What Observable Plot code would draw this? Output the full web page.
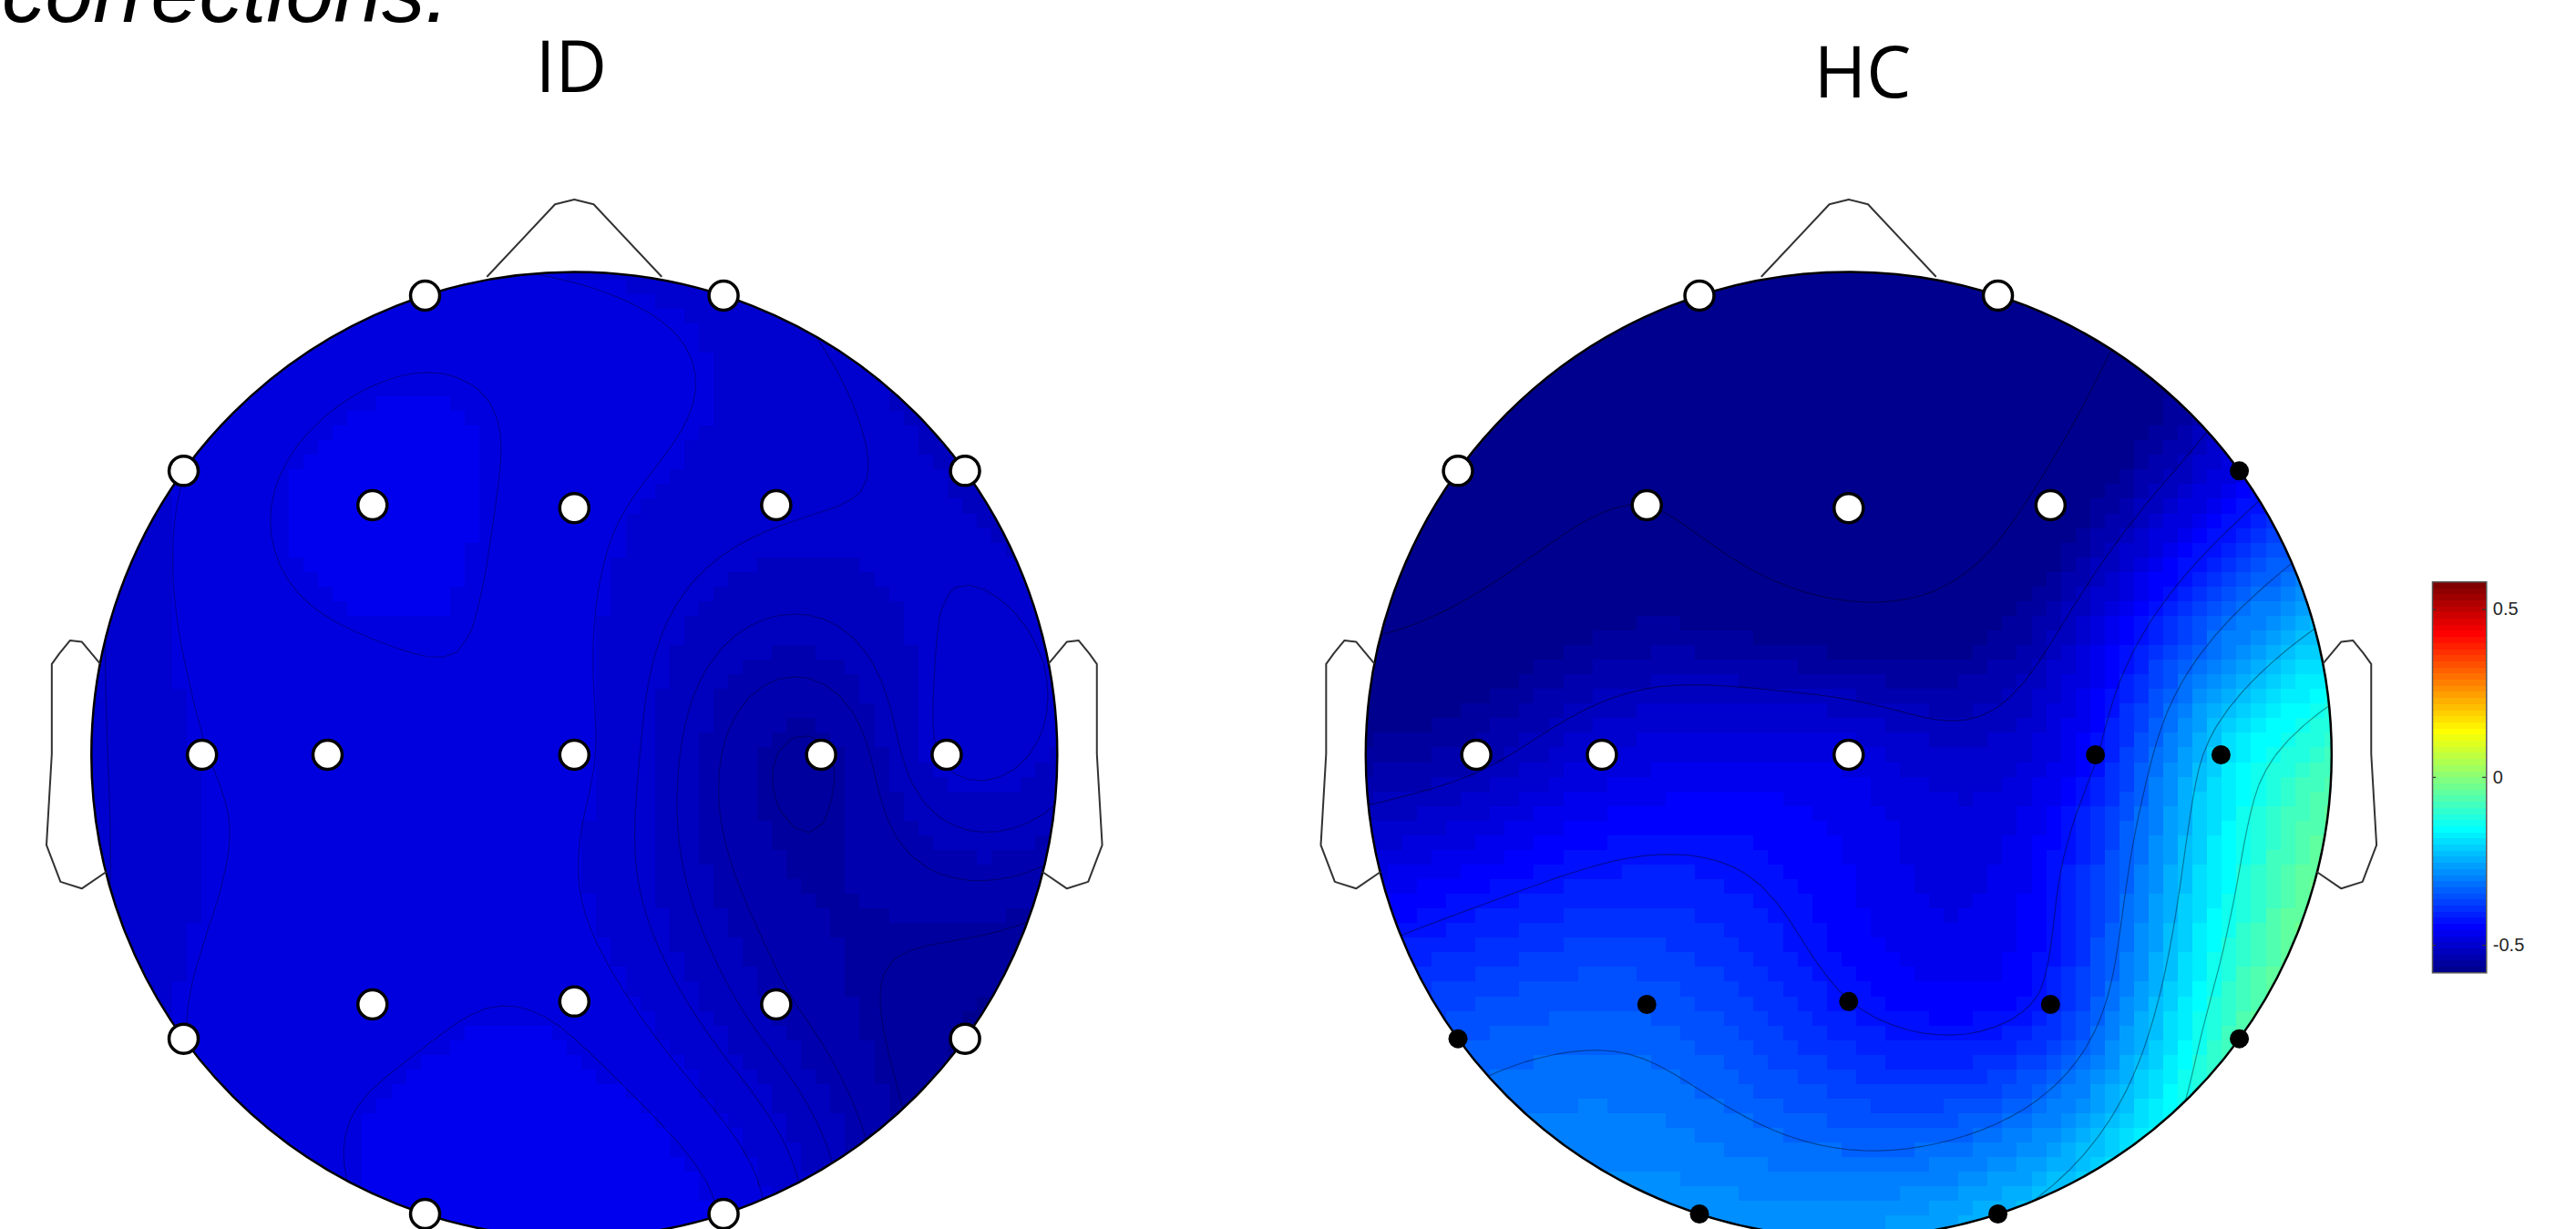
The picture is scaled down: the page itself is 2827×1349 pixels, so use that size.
<!DOCTYPE html>
<html>
<head>
<meta charset="utf-8">
<script src="https://cdn.jsdelivr.net/npm/d3@7"></script>
<script src="https://cdn.jsdelivr.net/npm/@observablehq/plot@0.6"></script>
<style>
  html, body { margin: 0; padding: 0; background: #fff; }
  body { width: 2827px; height: 1349px; overflow: hidden; position: relative; }
  .panel { position: absolute; top: 0; }
  #overlay { position: absolute; left: 0; top: 0; pointer-events: none; }
</style>
</head>
<body>
<div id="left" class="panel" style="left:0px"></div>
<div id="right" class="panel" style="left:1330px"></div>
<div id="cbar" class="panel" style="left:2640px; top:600px"></div>
<svg id="overlay" width="2827" height="1349"></svg>
<script>
// ---------------- data ----------------
const channels = ["Fp1","Fp2","F7","F3","Fz","F4","F8","T3","C3","Cz","C4","T4","T5","P3","Pz","P4","T6","O1","O2"];
// montage coordinates (head radius = 1, x to the right, y towards the back of the head)
const chanX = [-0.309, 0.309, -0.809, -0.418, 0, 0.418, 0.809, -0.771, -0.511, 0, 0.511, 0.771, -0.809, -0.418, 0, 0.418, 0.809, -0.309, 0.309];
const chanY = [-0.951, -0.951, -0.588, -0.517, -0.511, -0.517, -0.588, 0, 0, 0, 0, 0, 0.588, 0.517, 0.511, 0.517, 0.588, 0.951, 0.951];
const valuesID = [-0.485, -0.497, -0.49, -0.468, -0.484, -0.502, -0.512, -0.49, -0.486, -0.484, -0.552, -0.502, -0.49, -0.482, -0.479, -0.53, -0.566, -0.466, -0.476];
const valuesHC = [-0.70, -0.68, -0.68, -0.62, -0.70, -0.60, -0.47, -0.535, -0.49, -0.48, -0.43, -0.20, -0.35, -0.35, -0.425, -0.41, -0.07, -0.28, -0.24];
const significantHC = [false, false, false, false, false, false, true, false, false, false, true, true, true, true, true, true, true, true, true];
const colorLimit = 0.582;
const colorTicks = [-0.5, 0, 0.5];
const titles = ["ID", "HC"];
const captionText = "corrections.";
// head outline (EEGLAB style), in head-radius units
const noseX = [-0.18, -0.04, 0, 0.04, 0.18];
const noseY = [-0.991, -1.14, -1.15, -1.14, -0.991];
const earX = [0.983, 1.02, 1.044, 1.066, 1.082, 1.082, 1.093, 1.064, 1.02, 0.97];
const earY = [-0.19, -0.234, -0.237, -0.21, -0.188, -0.002, 0.187, 0.263, 0.277, 0.243];

// ---------------- layout ----------------
const K = 530;              // pixels per head radius
const CY = 828;             // head centre (page y)
const PAGE_H = 1349;
const PANEL_W = 1330;
const panels = [
  {el: "#left", left: 0, cx: 629.8, values: valuesID, sig: null, title: titles[0], titleX: 627, titleY: 101, lineOpacity: 0.3},
  {el: "#right", left: 1330, cx: 2028.3, values: valuesHC, sig: significantHC, title: titles[1], titleX: 2044, titleY: 107, lineOpacity: 0.38}
];

// MATLAB jet(64) colormap, quantized
function jet64(t) {
  const k = Math.max(0, Math.min(63, Math.floor(t * 64)));
  const u = (k + 1) / 64;
  const f = (c) => Math.max(0, Math.min(1, 1.5 - Math.abs(4 * u - c)));
  return `rgb(${Math.round(255 * f(3))},${Math.round(255 * f(2))},${Math.round(255 * f(1))})`;
}
const colorScale = {type: "linear", domain: [-colorLimit, colorLimit], clamp: true, interpolate: jet64};

// biharmonic spline (griddata 'v4') used by topoplot
function fitBiharmonic(px, py, pv) {
  const n = px.length;
  const g = (d) => (d > 0 ? d * d * (Math.log(d) - 1) : 0);
  const A = px.map((_, i) => px.map((_, j) => g(Math.hypot(px[i] - px[j], py[i] - py[j]))));
  const b = pv.slice();
  for (let c = 0; c < n; c++) {
    let p = c;
    for (let r = c + 1; r < n; r++) if (Math.abs(A[r][c]) > Math.abs(A[p][c])) p = r;
    [A[c], A[p]] = [A[p], A[c]];
    [b[c], b[p]] = [b[p], b[c]];
    for (let r = c + 1; r < n; r++) {
      const f = A[r][c] / A[c][c];
      for (let k = c; k < n; k++) A[r][k] -= f * A[c][k];
      b[r] -= f * b[c];
    }
  }
  const w = new Array(n).fill(0);
  for (let r = n - 1; r >= 0; r--) {
    let s = b[r];
    for (let k = r + 1; k < n; k++) s -= A[r][k] * w[k];
    w[r] = s / A[r][r];
  }
  return (x, y) => {
    let s = 0;
    for (let i = 0; i < n; i++) s += w[i] * g(Math.hypot(x - px[i], y - py[i]));
    return s;
  };
}
function topoInterpolate(index, width, height, X, Y, V) {
  const s = 1 / (width - 1);
  const I = Array.from(index);
  const f = fitBiharmonic(I.map((i) => X[i] * s), I.map((i) => Y[i] * s), I.map((i) => V[i]));
  const out = new Float64Array(width * height);
  for (let j = 0; j < height; j++)
    for (let i = 0; i < width; i++) out[j * width + i] = f((i + 0.5) * s, (j + 0.5) * s);
  return out;
}
function contourLevels(values) {
  const f = fitBiharmonic(chanX.map((x) => x / 2), chanY.map((y) => y / 2), values);
  let lo = Infinity, hi = -Infinity;
  for (let i = 0; i < 67; i++)
    for (let j = 0; j < 67; j++) {
      const x = -1 + (i * 2) / 66, y = -1 + (j * 2) / 66;
      if (x * x + y * y <= 1) {
        const v = f(x / 2, y / 2);
        lo = Math.min(lo, v); hi = Math.max(hi, v);
      }
    }
  return d3.range(1, 7).map((k) => lo + ((hi - lo) * k) / 7);
}

const ext = 1 + 1 / 66;
const earData = [
  ...earX.map((x, i) => ({side: "R", x, y: earY[i]})),
  ...earX.map((x, i) => ({side: "L", x: -x, y: earY[i]}))
];
const noseData = noseX.map((x, i) => ({x, y: noseY[i]}));
const overlay = d3.select("#overlay");

panels.forEach((p, pi) => {
  const data = channels.map((name, i) => ({name, x: chanX[i], y: chanY[i], v: p.values[i], sig: p.sig ? p.sig[i] : false}));
  const grid = {x: "x", y: "y", x1: -ext, x2: ext, y1: -ext, y2: ext, width: 67, height: 67, interpolate: topoInterpolate};
  const domainX = [(p.left - p.cx) / K, (p.left + PANEL_W - p.cx) / K];
  const domainY = [-CY / K, (PAGE_H - CY) / K];
  const plot = Plot.plot({
    width: PANEL_W, height: PAGE_H, margin: 0,
    x: {domain: domainX, range: [0, PANEL_W], axis: null},
    y: {domain: domainY, range: [0, PAGE_H], axis: null},
    color: colorScale,
    marks: [
      Plot.raster(data, {...grid, fill: "v", imageRendering: "pixelated"}),
      Plot.contour(data, {...grid, value: "v", thresholds: contourLevels(p.values), fill: "none", stroke: "#000", strokeOpacity: p.lineOpacity, strokeWidth: 1.2}),
      Plot.dot([{x: 0, y: 0}], {x: "x", y: "y", r: K, fill: "none", stroke: "#000", strokeWidth: 2.5}),
      Plot.line(noseData, {x: "x", y: "y", stroke: "#333", strokeWidth: 2}),
      Plot.line(earData, {x: "x", y: "y", z: "side", stroke: "#333", strokeWidth: 2}),
      Plot.dot(data.filter((d) => !d.sig), {x: "x", y: "y", r: 16, fill: "white", stroke: "#000", strokeWidth: 3.5}),
      Plot.dot(data.filter((d) => d.sig), {x: "x", y: "y", r: 10.5, fill: "#000", stroke: "none"})
    ]
  });
  // clip the interpolated map to the head circle
  const svg = d3.select(plot);
  const id = "headclip" + pi;
  svg.append("defs").append("clipPath").attr("id", id)
    .append("circle")
    .attr("cx", plot.scale("x").apply(0))
    .attr("cy", plot.scale("y").apply(0))
    .attr("r", K);
  svg.selectAll('g[aria-label="raster"], g[aria-label="contour"]').attr("clip-path", `url(#${id})`);
  document.querySelector(p.el).append(plot);

  overlay.append("text")
    .attr("x", p.titleX).attr("y", p.titleY)
    .attr("text-anchor", "middle")
    .attr("font-family", "'Open Sans', sans-serif")
    .attr("font-size", 78)
    .attr("fill", "#000")
    .text(p.title);
});

overlay.append("text")
  .attr("x", 2).attr("y", 24)
  .attr("font-family", "'Liberation Sans', Arial, sans-serif")
  .attr("font-style", "italic")
  .attr("font-size", 95)
  .attr("fill", "#000")
  .text(captionText);

// ---------------- colour bar ----------------
const cbW = 187, cbH = 500;
const cbar = Plot.plot({
  width: cbW, height: cbH,
  marginLeft: 29, marginRight: cbW - 88.3, marginTop: 38.3, marginBottom: cbH - 467.3,
  x: {domain: [0, 1], axis: null},
  y: {domain: [-colorLimit, colorLimit], axis: null},
  color: colorScale,
  style: {fontFamily: "'Liberation Sans', Arial, sans-serif", fontSize: "20px", color: "#262626"},
  marks: [
    Plot.raster({fill: (x, y) => y, x1: 0, x2: 1, y1: colorLimit, y2: -colorLimit, width: 1, height: 64, imageRendering: "pixelated"}),
    Plot.ruleY(colorTicks, {x1: 0, x2: 0.07, stroke: "#333", strokeWidth: 1.2}),
    Plot.ruleY(colorTicks, {x1: 0.93, x2: 1, stroke: "#333", strokeWidth: 1.2}),
    Plot.frame({stroke: "#555", strokeWidth: 1.5}),
    Plot.axisY({anchor: "right", ticks: colorTicks, tickSize: 0, tickPadding: 7, tickFormat: (d) => String(d), label: null, fontSize: 20})
  ]
});
document.querySelector("#cbar").append(cbar);
</script>
</body>
</html>
